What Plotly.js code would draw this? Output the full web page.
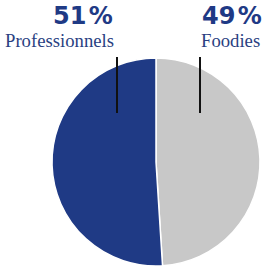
<!DOCTYPE html>
<html>
<head>
<meta charset="utf-8">
<script src="https://cdn.plot.ly/plotly-3.0.1.min.js"></script>
<style>html,body{margin:0;padding:0;background:#fff;}#chart{width:270px;height:275px;}</style>
</head>
<body>
<div id="chart"></div>
<script>
var categories = ["Foodies", "Professionnels"];
var values = [49, 51];
var colors = ["#c8c8c8", "#1f3a85"];

var W = 270, H = 275;
function px(x){ return x / W; }
function py(y){ return 1 - y / H; }

var trace = {
  type: "pie",
  labels: categories,
  values: values,
  sort: false,
  direction: "clockwise",
  rotation: 0,
  textinfo: "none",
  hoverinfo: "label+percent",
  marker: {colors: colors, line: {color: "#ffffff", width: 1.5}},
  domain: {x: [px(52), px(260)], y: [py(266), py(58)]},
  showlegend: false
};

var total = values.reduce(function(a,b){return a+b;}, 0);
function pct(i){ return Math.round(values[i] / total * 100) + "\u200A%"; }

var annotations = [
  {text: pct(1), x: px(115), y: py(16), xanchor: "right", yanchor: "middle",
   font: {family: "DejaVu Sans", size: 24, color: "#1f3a85", weight: 700}},
  {text: categories[1], x: px(116), y: py(40), xanchor: "right", yanchor: "middle",
   font: {family: "Liberation Serif", size: 18.7, color: "#2a3f82"}},
  {text: pct(0), x: px(200), y: py(16), xanchor: "left", yanchor: "middle",
   font: {family: "DejaVu Sans", size: 24, color: "#1f3a85", weight: 700}},
  {text: categories[0], x: px(199), y: py(40), xanchor: "left", yanchor: "middle",
   font: {family: "Liberation Serif", size: 18.7, color: "#2a3f82"}}
];
annotations.forEach(function(a){ a.xref = "paper"; a.yref = "paper"; a.showarrow = false; });

var shapes = [
  {type: "line", xref: "paper", yref: "paper", x0: px(117), x1: px(117), y0: py(57), y1: py(113), line: {color: "#111", width: 2}},
  {type: "line", xref: "paper", yref: "paper", x0: px(200), x1: px(200), y0: py(57), y1: py(113), line: {color: "#111", width: 2}}
];

var layout = {
  width: W, height: H,
  margin: {l: 0, r: 0, t: 0, b: 0},
  paper_bgcolor: "#ffffff",
  plot_bgcolor: "#ffffff",
  annotations: annotations,
  shapes: shapes
};

Plotly.newPlot("chart", [trace], layout, {displayModeBar: false, staticPlot: true});
</script>
</body>
</html>
